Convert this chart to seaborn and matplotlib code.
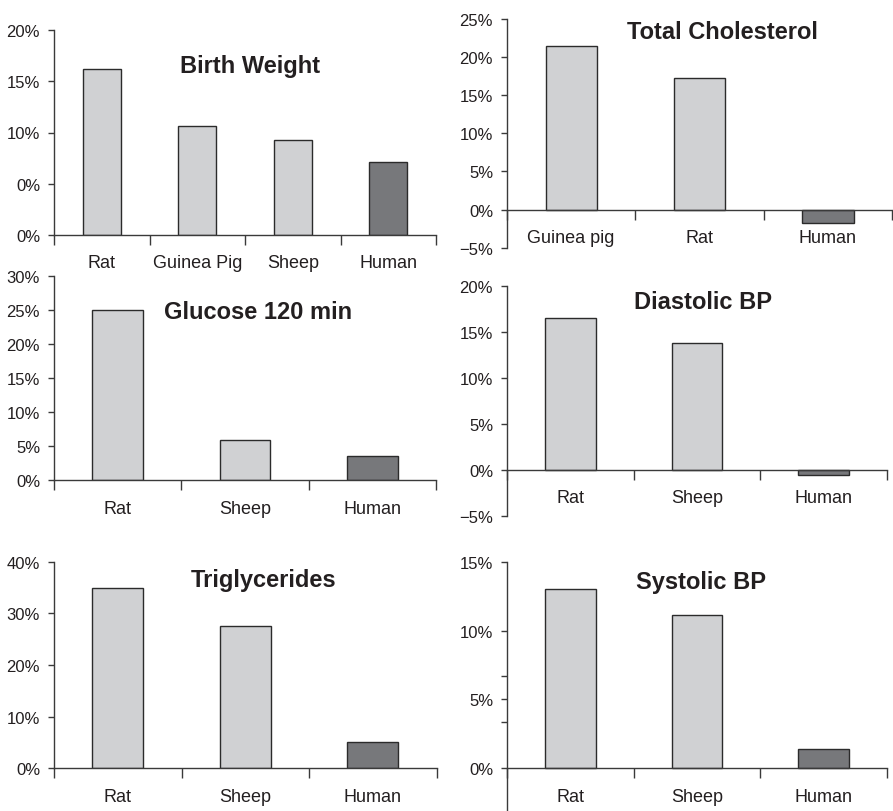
import matplotlib
matplotlib.use("Agg")
import matplotlib.pyplot as plt
import seaborn as sns

sns.set_style("ticks")
plt.rcParams["font.family"] = ["Liberation Sans", "DejaVu Sans"]

LIGHT = "#d0d1d3"
DARK = "#77787b"
EDGE = "#2b2b2b"
AXIS = "#3a3a3a"
TEXT = "#231f20"

# ---- data (percent change) ----
birth_cats = ["Rat", "Guinea Pig", "Sheep", "Human"]
birth_vals = [16.2, 10.6, 9.3, 7.1]
birth_ticks = [0, 5, 10, 15, 20]
birth_ticklabels = ["0%", "0%", "10%", "15%", "20%"]

chol_cats = ["Guinea pig", "Rat", "Human"]
chol_vals = [21.4, 17.2, -1.8]
chol_ticks = [-5, 0, 5, 10, 15, 20, 25]
chol_ticklabels = ["\u22125%", "0%", "5%", "10%", "15%", "20%", "25%"]

gluc_cats = ["Rat", "Sheep", "Human"]
gluc_vals = [24.9, 5.9, 3.5]
gluc_ticks = [0, 5, 10, 15, 20, 25, 30]
gluc_ticklabels = ["0%", "5%", "10%", "15%", "20%", "25%", "30%"]

dia_cats = ["Rat", "Sheep", "Human"]
dia_vals = [16.5, 13.8, -0.6]
dia_ticks = [-5, 0, 5, 10, 15, 20]
dia_ticklabels = ["\u22125%", "0%", "5%", "10%", "15%", "20%"]

trig_cats = ["Rat", "Sheep", "Human"]
trig_vals = [35.0, 27.6, 5.1]
trig_ticks = [0, 10, 20, 30, 40]
trig_ticklabels = ["0%", "10%", "20%", "30%", "40%"]

sys_cats = ["Rat", "Sheep", "Human"]
sys_vals = [13.0, 11.1, 1.4]
sys_ticks = [0, 10 / 3, 5, 20 / 3, 10, 15]
sys_ticklabels = ["0%", "", "5%", "", "10%", "15%"]

# panel layout in pixels: left, right, top, bottom, ylim, title position (axes fraction)
W, H = 893, 812
panels = [
    ("Birth Weight", birth_cats, birth_vals, birth_ticks, birth_ticklabels,
     (54, 436, 31, 236), (0, 20), (0.513, 0.829)),
    ("Total Cholesterol", chol_cats, chol_vals, chol_ticks, chol_ticklabels,
     (507, 892, 20, 248.7), (-5, 25), (0.56, 0.946)),
    ("Glucose 120 min", gluc_cats, gluc_vals, gluc_ticks, gluc_ticklabels,
     (54, 436, 276.7, 481.3), (0, 30), (0.534, 0.823)),
    ("Diastolic BP", dia_cats, dia_vals, dia_ticks, dia_ticklabels,
     (507, 886.7, 286.7, 516.7), (-5, 20), (0.516, 0.93)),
    ("Triglycerides", trig_cats, trig_vals, trig_ticks, trig_ticklabels,
     (54, 436.7, 562.7, 769.3), (0, 40), (0.548, 0.916)),
    ("Systolic BP", sys_cats, sys_vals, sys_ticks, sys_ticklabels,
     (507, 886.7, 562.7, 812), (-3.1, 15), (0.51, 0.92)),
]

fig = plt.figure(figsize=(W / 100, H / 100), dpi=100)

for title, cats, vals, ticks, ticklabels, (l, r, t, b), ylim, (tx, ty) in panels:
    ax = fig.add_axes([l / W, 1 - b / H, (r - l) / W, (b - t) / H])
    colors = [DARK if c == "Human" else LIGHT for c in cats]
    sns.barplot(x=cats, y=vals, hue=cats, palette=colors, legend=False,
                width=0.4, edgecolor=EDGE, linewidth=1.0, saturation=1, ax=ax)

    n = len(cats)
    ax.set_xlim(-0.5, n - 0.5)
    ax.set_ylim(*ylim)

    ax.spines["top"].set_visible(False)
    ax.spines["right"].set_visible(False)
    ax.spines["bottom"].set_position(("data", 0))
    for s in ("left", "bottom"):
        ax.spines[s].set_color(AXIS)
        ax.spines[s].set_linewidth(1.0)

    ax.set_yticks(ticks)
    ax.set_yticklabels(ticklabels)
    ax.tick_params(axis="y", length=4, width=1.0, color=AXIS, pad=6,
                   labelsize=12, labelcolor=TEXT)

    # category labels at centres, tick marks at category boundaries
    ax.set_xticks(range(n))
    ax.set_xticklabels(cats)
    ax.tick_params(axis="x", which="major", length=0, pad=14,
                   labelsize=13, labelcolor=TEXT)
    ax.set_xticks([i - 0.5 for i in range(n + 1)], minor=True)
    ax.tick_params(axis="x", which="minor", length=7, width=1.0,
                   color=AXIS, direction="out")

    ax.set_xlabel("")
    ax.set_ylabel("")
    ax.text(tx, ty, title, transform=ax.transAxes, ha="center", va="center",
            fontsize=17, fontweight="bold", color=TEXT)

fig.savefig("out.png", dpi=100, facecolor="white")
